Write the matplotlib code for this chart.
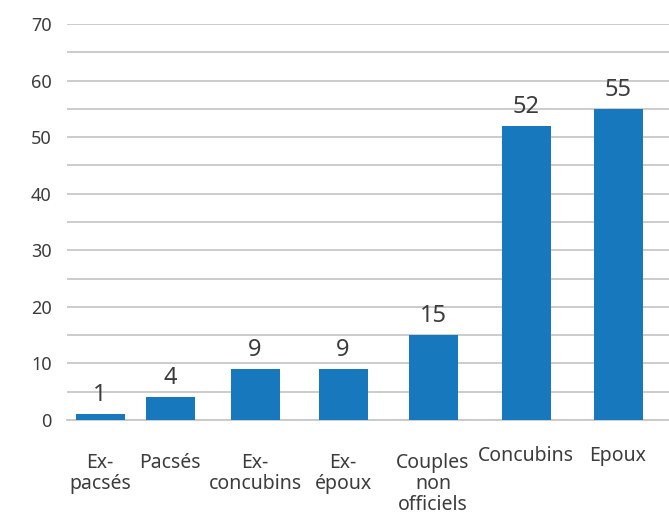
import numpy as np
import matplotlib.pyplot as plt
import matplotlib.transforms as mtransforms

# data
categories = ['Ex-\npacsés', 'Pacsés', 'Ex-\nconcubins', 'Ex-\népoux',
              'Couples\nnon\nofficiels', 'Concubins', 'Epoux']
values = [1, 4, 9, 9, 15, 52, 55]

# layout (bar centres, in pixel-like units along the axis)
xPos = [100, 170, 255, 343, 433, 526, 618]
labelLift = [0, 0, 0, 0, 0, 7, 7]

barColor = '#1878be'
textColor = '#3c3c3c'
gridColor = '#c8c8cc'
plt.rcParams['font.family'] = ['Noto Sans', 'DejaVu Sans']

fig = plt.figure(figsize=(6.69, 5.16), dpi=100)
ax = fig.add_axes([67/669, 96/516, 602/669, 396/516])

ax.bar(xPos, values, width=49, color=barColor, zorder=3)
ax.set_xlim(67, 669)
ax.set_ylim(0, 70)
ax.set_yticks(np.arange(0, 71, 10))
ax.set_yticks(np.arange(5, 70, 10), minor=True)
ax.yaxis.grid(True, which='both', color=gridColor, linewidth=1.3, zorder=0)
ax.tick_params(axis='y', which='both', length=0, pad=11, labelsize=13,
               labelcolor=textColor)
ax.set_xticks([])
for side in ['top', 'right', 'left']:
    ax.spines[side].set_visible(False)
ax.spines['bottom'].set_color(gridColor)
ax.spines['bottom'].set_linewidth(1.3)

# value labels
for x, v in zip(xPos, values):
    ax.annotate(str(v), (x, v), xytext=(0, 5), textcoords='offset points',
                ha='center', va='bottom', fontsize=17, color=textColor)

# category labels
trans = mtransforms.blended_transform_factory(ax.transData, fig.transFigure)
for x, lab, lift in zip(xPos, categories, labelLift):
    ax.text(x, (516 - 453 + lift)/516, lab, transform=trans, ha='center',
            va='top', fontsize=14, color=textColor, linespacing=1.06)

fig.savefig('out.png', dpi=100)
